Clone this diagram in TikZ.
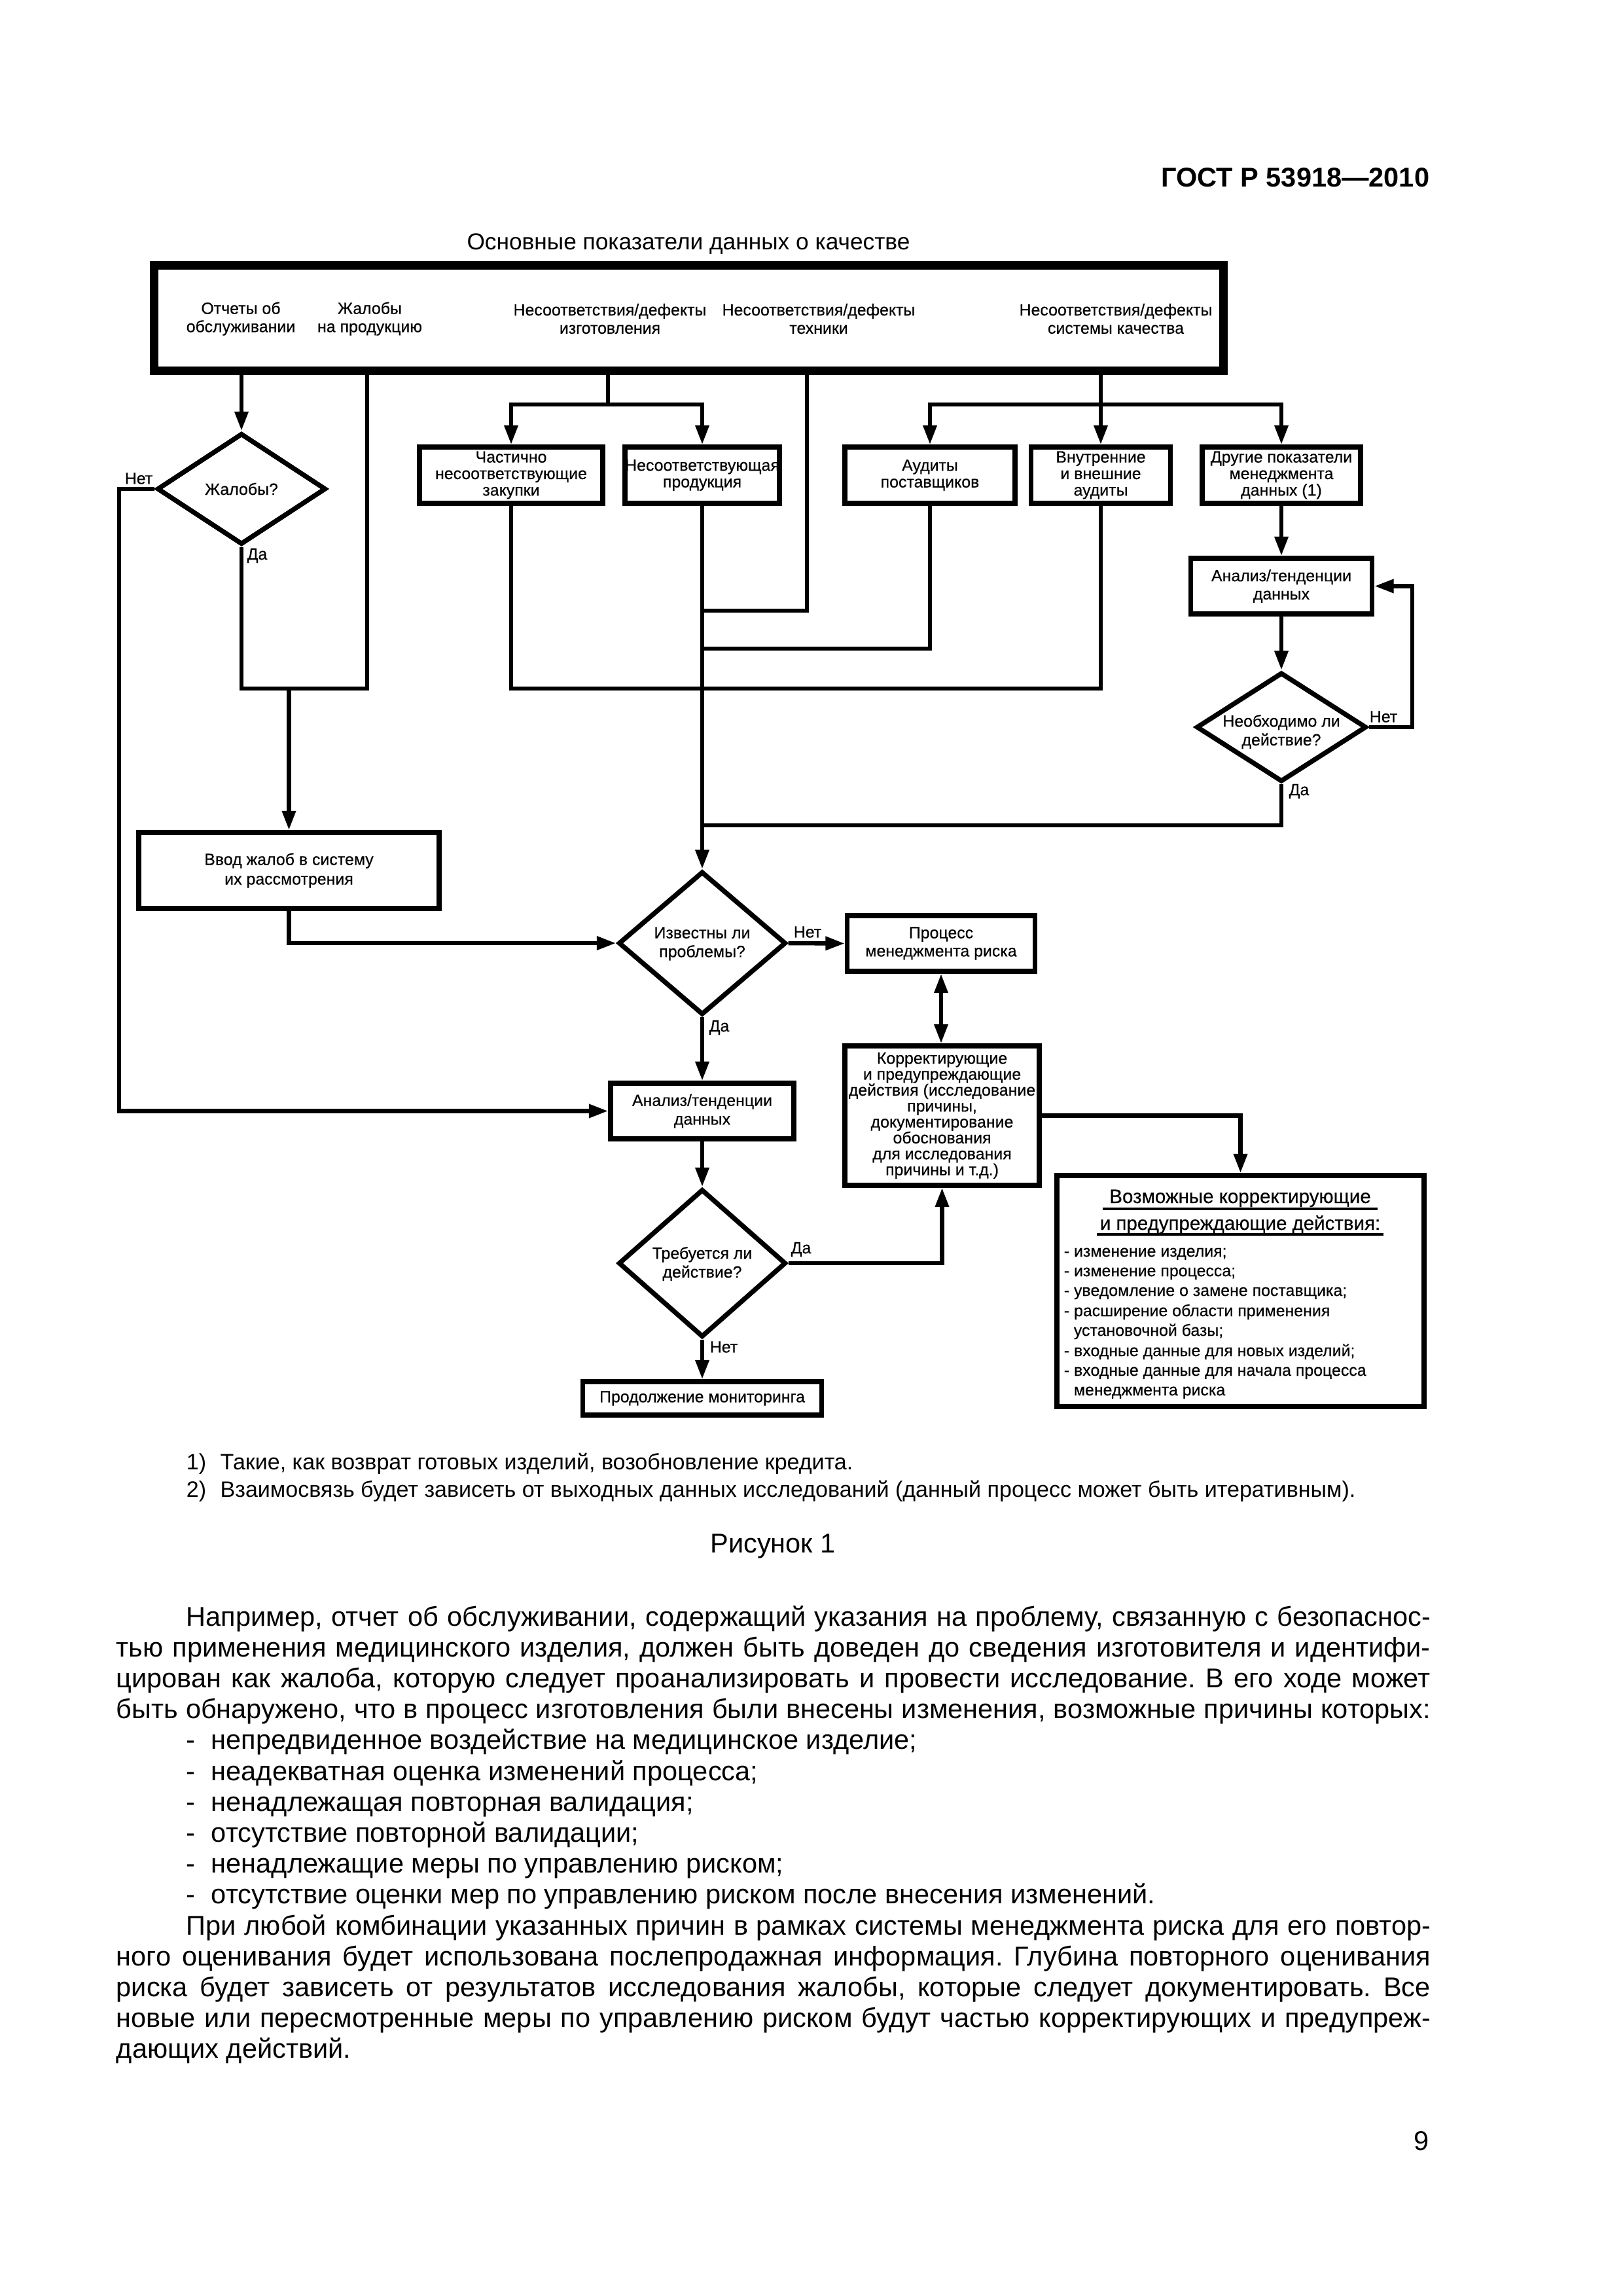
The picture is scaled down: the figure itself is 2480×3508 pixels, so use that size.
\documentclass[tikz,border=0pt]{standalone}
\usepackage{fontspec}
\setmainfont{Liberation Sans}
\newfontfamily\dfont{Liberation Sans}[FakeBold=0.4]
\usetikzlibrary{arrows.meta,shapes.geometric}
\frenchspacing
\newdimen\pxu \pxu=0.084677mm
\tikzset{
  conn/.style={line width=0.55mm},
  arr/.style={conn, -{Triangle[length=2.5mm,width=1.7mm]}},
  darr/.style={conn, {Triangle[length=2.5mm,width=1.7mm]}-{Triangle[length=2.5mm,width=1.7mm]}},
  fbox/.style={draw, line width=0.62mm, inner sep=0pt, align=center, font=\dfont\fontsize{6}{6.6}\selectfont},
  sbox/.style={fbox, font=\dfont\fontsize{6}{6.1}\selectfont},
  dia/.style={draw, diamond, line width=0.62mm, inner sep=0pt},
  dtext/.style={inner sep=0pt, align=center, font=\dfont\fontsize{6}{6.9}\selectfont},
  yn/.style={inner sep=0pt, font=\dfont\fontsize{6}{7}\selectfont},
  ttext/.style={inner sep=0pt, align=center, font=\dfont\fontsize{6}{6.7}\selectfont},
  litem/.style={inner sep=0pt, anchor=base west, font=\dfont\fontsize{6}{7}\selectfont},
  body/.style={inner sep=0pt, anchor=base west, font=\fontsize{10}{11.5}\selectfont},
  fnote/.style={inner sep=0pt, anchor=base west, font=\fontsize{8.2}{9.5}\selectfont},
  uline/.style={line width=0.3mm},
}
\begin{document}
\begin{tikzpicture}[x=0.084677mm,y=-0.084677mm]
\useasboundingbox (0,0) rectangle (2480,3508);

% header and title
\node[inner sep=0pt, anchor=base east, font=\bfseries\fontsize{10}{12}\selectfont] (gost) at (2185,285) {ГОСТ Р 53918—2010};
\node[inner sep=0pt, anchor=base, font=\fontsize{8.5}{10}\selectfont] (title) at (1052,381) {Основные показатели данных о качестве};

% top box
\node[draw, line width=13\pxu, minimum width=1634\pxu, minimum height=161\pxu, inner sep=0pt] (top) at (1052.5,486) {};
\node[ttext] (t1) at (368,487) {Отчеты об\\обслуживании};
\node[ttext] (t2) at (565,487) {Жалобы\\на продукцию};
\node[ttext] (t3) at (932,487) {Несоответствия/дефекты\\изготовления};
\node[ttext] (t4) at (1251,487) {Несоответствия/дефекты\\техники};
\node[ttext] (t5) at (1705,487) {Несоответствия/дефекты\\системы качества};

% second row boxes
\node[sbox, minimum width=280\pxu, minimum height=86\pxu] (bA) at (781,726) {Частично\\несоответствующие\\закупки};
\node[sbox, minimum width=236\pxu, minimum height=86\pxu] (bB) at (1073,726) {Несоответствующая\\продукция};
\node[sbox, minimum width=260\pxu, minimum height=86\pxu] (bC) at (1421,726) {Аудиты\\поставщиков};
\node[sbox, minimum width=213\pxu, minimum height=86\pxu] (bD) at (1682,726) {Внутренние\\и внешние\\аудиты};
\node[sbox, minimum width=242\pxu, minimum height=86\pxu] (bE) at (1958,726) {Другие показатели\\менеджмента\\данных (1)};

% diamonds and boxes
\node[dia, minimum width=258\pxu, minimum height=170\pxu] (zh) at (369,747) {};
\node[dtext] (zhT) at (369,747) {Жалобы?};
\node[fbox, minimum width=277\pxu, minimum height=85\pxu, font=\dfont\fontsize{6}{6.7}\selectfont] (an1) at (1958,895.5) {Анализ/тенденции\\данных};
\node[dia, minimum width=260\pxu, minimum height=167\pxu] (neo) at (1958,1111) {};
\node[dtext] (neoT) at (1958,1118) {Необходимо ли\\действие?};
\node[fbox, minimum width=459\pxu, minimum height=116\pxu, font=\dfont\fontsize{6}{7.2}\selectfont] (vvod) at (441.5,1330) {Ввод жалоб в систему\\их рассмотрения};
\node[dia, minimum width=256\pxu, minimum height=219\pxu] (izv) at (1073,1441) {};
\node[dtext] (izvT) at (1073,1442) {Известны ли\\проблемы?};
\node[fbox, minimum width=287\pxu, minimum height=85\pxu, font=\dfont\fontsize{6}{6.7}\selectfont] (proc) at (1438,1441.5) {Процесс\\менеджмента риска};
\node[fbox, minimum width=297\pxu, minimum height=213\pxu, font=\dfont\fontsize{6}{5.86}\selectfont] (korr) at (1439.5,1704.5) {Корректирующие\\и предупреждающие\\действия (исследование\\причины,\\документирование\\обоснования\\для исследования\\причины и т.д.)};
\node[fbox, minimum width=280\pxu, minimum height=85\pxu, font=\dfont\fontsize{6}{6.9}\selectfont] (an2) at (1073,1697.5) {Анализ/тенденции\\данных};
\node[dia, minimum width=256\pxu, minimum height=226\pxu] (treb) at (1073,1930) {};
\node[dtext] (trebT) at (1073,1931) {Требуется ли\\действие?};
\node[fbox, minimum width=365\pxu, minimum height=51\pxu] (prod) at (1073,2136.5) {Продолжение мониторинга};
\node[draw, line width=0.62mm, inner sep=0pt, minimum width=561\pxu, minimum height=353\pxu] (vozm) at (1895.5,1972.5) {};

% possible actions box content
\node[inner sep=0pt, anchor=base, font=\dfont\fontsize{7.1}{8}\selectfont] (vt1) at (1895,1838) {Возможные корректирующие};
\node[inner sep=0pt, anchor=base, font=\dfont\fontsize{7.1}{8}\selectfont] (vt2) at (1895,1879) {и предупреждающие действия:};
\coordinate (u1) at (0,1847);
\coordinate (u2) at (0,1886);
\draw[uline] ([xshift=-10\pxu]vt1.west |- u1) -- ([xshift=10\pxu]vt1.east |- u1);
\draw[uline] ([xshift=-4\pxu]vt2.west |- u2) -- ([xshift=4\pxu]vt2.east |- u2);
\node[litem] (l1) at (1625,1920) {- изменение изделия;};
\node[litem] (l2) at (1625,1950) {- изменение процесса;};
\node[litem] (l3) at (1625,1980) {- уведомление о замене поставщика;};
\node[litem] (l4) at (1625,2011) {- расширение области применения};
\node[litem] (l5) at (1640,2041) {установочной базы;};
\node[litem] (l6) at (1625,2072) {- входные данные для новых изделий;};
\node[litem] (l7) at (1625,2102) {- входные данные для начала процесса};
\node[litem] (l8) at (1640,2132) {менеджмента риска};

% yes/no labels
\node[yn] (zhNet) at (212,731) {Нет};
\node[yn] (zhDa) at (393,849) {Да};
\node[yn] (neoNet) at (2114,1095) {Нет};
\node[yn] (neoDa) at (1985,1209) {Да};
\node[yn] (izvNet) at (1234,1424) {Нет};
\node[yn] (izvDa) at (1099,1570) {Да};
\node[yn] (trebDa) at (1224,1909) {Да};
\node[yn] (trebNet) at (1106,2058) {Нет};

% junction coordinates
\coordinate (cS1) at (929,618);
\coordinate (cS2) at (1682,618);
\coordinate (cDa1) at (369,1052);
\coordinate (cDa2) at (561,1052);
\coordinate (cVv) at (441.5,1052);
\coordinate (cNet1) at (182,747);
\coordinate (cJ1) at (1682,1052);
\coordinate (cJ2) at (1073,991);
\coordinate (cT) at (1233,933);
\coordinate (cJ3) at (1073,933);
\coordinate (cJ4) at (1073,1261);
\coordinate (cL1) at (2158,1111);

% connectors
\draw[arr] (top.south -| zh.north) -- (zh.north);
\draw[conn] (zh.south) -- (cDa1) -- (cDa2) -- (top.south -| cDa2);
\draw[arr] (cVv) -- (vvod.north);
\draw[arr] (zh.west) -- (cNet1) |- (an2.west);
\draw[conn] (top.south -| cS1) -- (cS1);
\draw[arr] (cS1) -| (bA.north);
\draw[arr] (cS1) -| (bB.north);
\draw[conn] (top.south -| cS2) -- (cS2);
\draw[arr] (cS2) -| (bC.north);
\draw[arr] (cS2) -- (bD.north);
\draw[arr] (cS2) -| (bE.north);
\draw[conn] (bA.south) |- (cJ1) -- (bD.south);
\draw[conn] (bC.south) |- (cJ2);
\draw[conn] (top.south -| cT) -- (cT) -- (cJ3);
\draw[arr] (bB.south) -- (izv.north);
\draw[arr] (bE.south) -- (an1.north);
\draw[arr] (an1.south) -- (neo.north);
\draw[arr] (neo.east) -- (cL1) |- (an1.east);
\draw[conn] (neo.south) |- (cJ4);
\draw[arr] (vvod.south) |- (izv.west);
\draw[arr] (izv.east) -- (proc.west);
\draw[darr] (proc.south) -- (proc.south |- korr.north);
\draw[arr] (izv.south) -- (an2.north);
\draw[arr] (an2.south) -- (treb.north);
\draw[arr] (treb.south) -- (prod.north);
\draw[arr] (treb.east) -| (korr.south);
\draw[arr] (korr.east) -| (vozm.north);

% footnotes and caption
\node[fnote] (fn1) at (284,2245) {\hbox to 12.5pt{1)\hfil}Такие, как возврат готовых изделий, возобновление кредита.};
\node[fnote] (fn2) at (284,2287) {\hbox to 12.5pt{2)\hfil}Взаимосвязь будет зависеть от выходных данных исследований (данный процесс может быть итеративным).};
\node[inner sep=0pt, anchor=base, font=\fontsize{10}{12}\selectfont] (fig) at (1181,2372) {Рисунок 1};

% body text
\node[body] (b1) at (284,2484) {\hbox to 1901\pxu{Например, отчет об обслуживании, содержащий указания на проблему, связанную с безопаснос-}};
\node[body] (b2) at (177,2531.2) {\hbox to 2008\pxu{тью применения медицинского изделия, должен быть доведен до сведения изготовителя и идентифи-}};
\node[body] (b3) at (177,2578.4) {\hbox to 2008\pxu{цирован как жалоба, которую следует проанализировать и провести исследование. В его ходе может}};
\node[body] (b4) at (177,2625.6) {\hbox to 2008\pxu{быть обнаружено, что в процесс изготовления были внесены изменения, возможные причины которых:}};
\node[body] (b5) at (284,2672.8) {\hbox to 38\pxu{-\hfil}непредвиденное воздействие на медицинское изделие;};
\node[body] (b6) at (284,2720) {\hbox to 38\pxu{-\hfil}неадекватная оценка изменений процесса;};
\node[body] (b7) at (284,2767.2) {\hbox to 38\pxu{-\hfil}ненадлежащая повторная валидация;};
\node[body] (b8) at (284,2814.4) {\hbox to 38\pxu{-\hfil}отсутствие повторной валидации;};
\node[body] (b9) at (284,2861.6) {\hbox to 38\pxu{-\hfil}ненадлежащие меры по управлению риском;};
\node[body] (b10) at (284,2908.8) {\hbox to 38\pxu{-\hfil}отсутствие оценки мер по управлению риском после внесения изменений.};
\node[body] (b11) at (284,2956) {\hbox to 1901\pxu{При любой комбинации указанных причин в рамках системы менеджмента риска для его повтор-}};
\node[body] (b12) at (177,3003.2) {\hbox to 2008\pxu{ного оценивания будет использована послепродажная информация. Глубина повторного оценивания}};
\node[body] (b13) at (177,3050.4) {\hbox to 2008\pxu{риска будет зависеть от результатов исследования жалобы, которые следует документировать. Все}};
\node[body] (b14) at (177,3097.6) {\hbox to 2008\pxu{новые или пересмотренные меры по управлению риском будут частью корректирующих и предупреж-}};
\node[body] (b15) at (177,3144.8) {дающих действий.};
\node[inner sep=0pt, anchor=base east, font=\fontsize{10}{12}\selectfont] (pnum) at (2184,3285) {9};
\end{tikzpicture}
\end{document}
